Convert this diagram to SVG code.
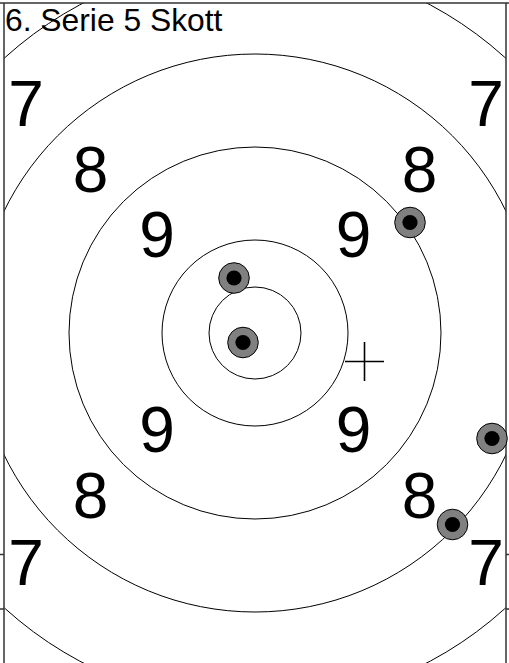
<svg xmlns="http://www.w3.org/2000/svg" width="509" height="663" viewBox="0 0 509 663">
<style>
.ring{fill:none;stroke:#000;stroke-width:1}
.num{font-family:"Liberation Sans",Arial,sans-serif;font-size:64px;fill:#000;text-anchor:middle}
.title{font-family:"Liberation Sans",Arial,sans-serif;font-size:31.8px;fill:#000}
.frame{stroke:#333;stroke-width:1.5;fill:none}
.shot-o{fill:#808080;stroke:#000;stroke-width:1}
.shot-i{fill:#000}
.cross{stroke:#000;stroke-width:1.6}
</style>
<defs>
<clipPath id="clip"><rect x="4" y="3" width="502" height="660"/></clipPath>
</defs>
<rect width="509" height="663" fill="#fff"/>
<g id="rings" clip-path="url(#clip)">
<circle class="ring" cx="255" cy="333" r="46"/>
<circle class="ring" cx="255" cy="333" r="93"/>
<circle class="ring" cx="255" cy="333" r="186"/>
<circle class="ring" cx="255" cy="333" r="279"/>
<circle class="ring" cx="255" cy="333" r="372"/>
</g>
<g id="frame">
<line class="frame" x1="0" y1="3" x2="509" y2="3"/>
<line class="frame" x1="4" y1="3" x2="4" y2="663"/>
<line class="frame" x1="506" y1="3" x2="506" y2="663"/>
<line class="frame" x1="0" y1="554.5" x2="4" y2="554.5"/>
<line class="frame" x1="0" y1="609" x2="4" y2="609"/>
<line class="frame" x1="506" y1="554.5" x2="509" y2="554.5"/>
<line class="frame" x1="506" y1="609" x2="509" y2="609"/>
</g>
<text class="title" x="5" y="30.5">6. Serie 5 Skott</text>
<g id="labels">
<text class="num" x="26" y="126">7</text>
<text class="num" x="486" y="126">7</text>
<text class="num" x="90.5" y="192">8</text>
<text class="num" x="419.5" y="192">8</text>
<text class="num" x="157" y="257">9</text>
<text class="num" x="353.5" y="257">9</text>
<text class="num" x="157" y="452">9</text>
<text class="num" x="353.5" y="452">9</text>
<text class="num" x="90.5" y="518">8</text>
<text class="num" x="419.5" y="518">8</text>
<text class="num" x="26" y="585">7</text>
<text class="num" x="486" y="585">7</text>
</g>
<g id="shot1"><circle class="shot-o" cx="410" cy="222.5" r="15.3"/><circle class="shot-i" cx="410" cy="222.5" r="7.6"/></g>
<g id="shot2"><circle class="shot-o" cx="234" cy="278" r="15.3"/><circle class="shot-i" cx="234" cy="278" r="7.6"/></g>
<g id="shot3"><circle class="shot-o" cx="243" cy="342.5" r="15.3"/><circle class="shot-i" cx="243" cy="342.5" r="7.6"/></g>
<g id="shot4"><circle class="shot-o" cx="492" cy="438.5" r="15.3"/><circle class="shot-i" cx="492" cy="438.5" r="7.6"/></g>
<g id="shot5"><circle class="shot-o" cx="452.5" cy="524.5" r="15.3"/><circle class="shot-i" cx="452.5" cy="524.5" r="7.6"/></g>
<g id="mean">
<line class="cross" x1="345" y1="361.5" x2="384" y2="361.5"/>
<line class="cross" x1="364.5" y1="342" x2="364.5" y2="381"/>
</g>
</svg>
